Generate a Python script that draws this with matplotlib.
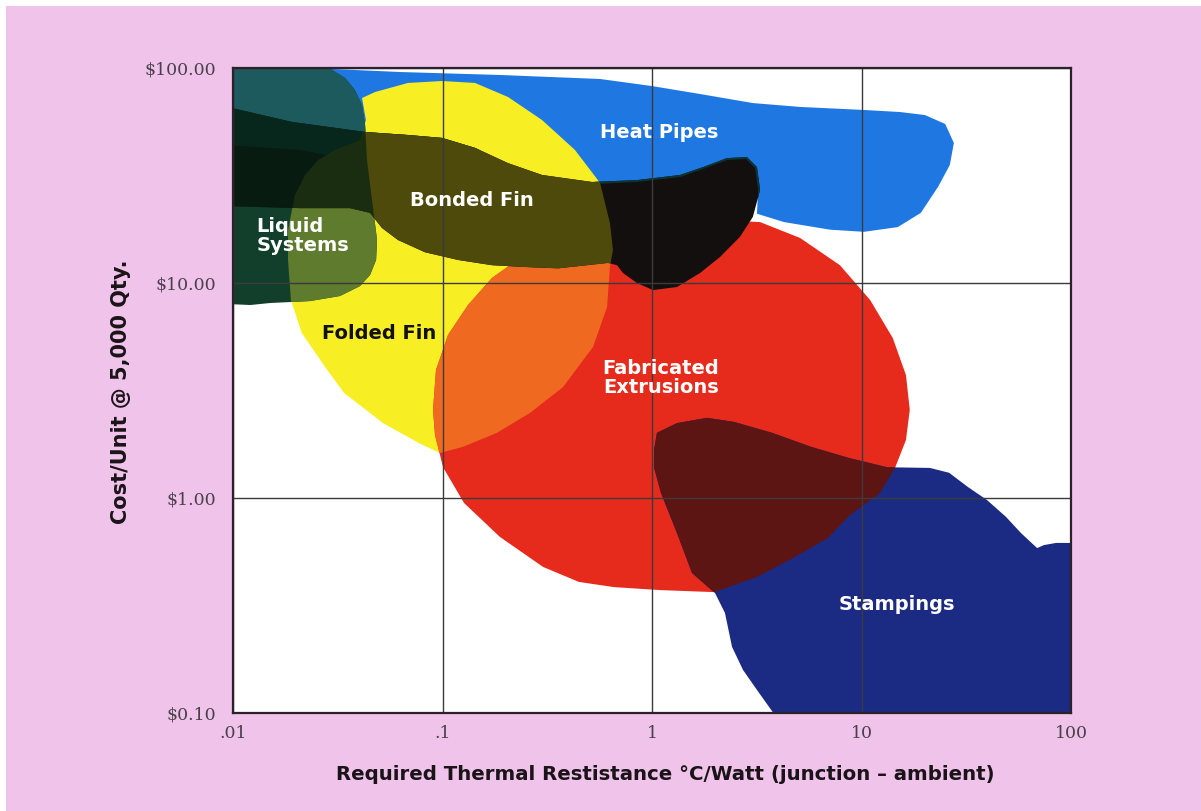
import matplotlib
matplotlib.use("Agg")
import matplotlib.pyplot as plt
from matplotlib.patches import Polygon, Rectangle

# ---------------- data: region outlines (x = °C/W, y = $/unit) ----------------
heat_pipes_x = [0.009, 0.030, 0.0627, 0.188, 0.565, 1.0, 1.695, 3.03, 5.09, 10.28, 15.3, 20.1,
                25.1, 27.6, 26.4, 23.2, 19.2, 14.9, 10.28, 7.08, 4.27, 3.17, 3.21, 3.10, 2.81,
                2.28, 1.752, 1.361, 0.848, 0.552, 0.4285, 0.292, 0.1086, 0.0427, 0.0324,
                0.0209, 0.009]
heat_pipes_y = [110, 98.9, 95.8, 92.8, 88.9, 82.4, 75.7, 68.7, 65.9, 63.8, 62.4, 60.4,
                54.9, 44.8, 35.4, 28.0, 21.2, 18.2, 17.3, 17.7, 19.2, 21.0, 27.1, 34.3, 37.7,
                37.3, 33.9, 31.1, 29.5, 28.9, 35.4, 41.6, 41.6, 41.6, 38.1,
                41.6, 43.9]

folded_fin_x = [0.0413, 0.0476, 0.0684, 0.0995, 0.143, 0.2055, 0.2985, 0.4285, 0.565, 0.630,
                0.651, 0.630, 0.610, 0.523, 0.376, 0.262, 0.182, 0.1253, 0.0973, 0.0789,
                0.052, 0.0339, 0.0275, 0.0213, 0.0189, 0.0183, 0.0183, 0.01977, 0.0221,
                0.0255, 0.0307, 0.0404, 0.0431]
folded_fin_y = [72.5, 77.3, 85.2, 87.0, 85.2, 73.3, 57.3, 41.6, 29.2, 19.0,
                14.2, 11.9, 7.73, 5.04, 3.28, 2.49, 2.01, 1.73, 1.62, 1.78,
                2.23, 3.08, 4.07, 5.85, 8.33, 12.8, 17.6, 25.7, 31.8,
                37.3, 41.6, 46.2, 57.3]

fabricated_x = [0.0901, 0.0931, 0.1062, 0.1324, 0.1722, 0.2344, 0.364, 0.630, 1.092, 2.11,
                3.28, 5.09, 7.89, 11.0, 14.1, 16.3, 17.0, 16.3, 14.45, 12.25, 8.81, 6.92,
                4.71, 3.17, 1.977, 1.092, 0.659, 0.448, 0.302, 0.188, 0.1267, 0.1006, 0.0921]
fabricated_y = [2.57, 3.94, 5.73, 7.90, 10.55, 13.07, 15.85, 18.03, 19.2, 19.6,
                19.2, 16.2, 12.1, 8.33, 5.55, 3.73, 2.57, 1.86, 1.38, 1.055, 0.833, 0.652,
                0.526, 0.429, 0.365, 0.373, 0.385, 0.407, 0.478, 0.659, 0.948, 1.39, 1.96]

stampings_x = [1.022, 1.022, 1.056, 1.316, 1.83, 2.46, 3.74, 5.74, 8.71, 13.24, 21.2, 26.2,
               32.2, 39.7, 49.0, 57.7, 68.9, 74.3, 84.8, 110, 110, 4.1, 3.17, 2.72, 2.41,
               2.23, 2.0, 1.552, 1.316, 1.104]
stampings_y = [1.39, 1.67, 2.01, 2.23, 2.36, 2.26, 2.01, 1.73, 1.535, 1.39, 1.38, 1.31,
               1.125, 0.979, 0.816, 0.687, 0.585, 0.604, 0.618, 0.618, 0.09, 0.09, 0.128,
               0.1585, 0.203, 0.292, 0.361, 0.448, 0.687, 1.055]

liquid_x = [0.009, 0.0275, 0.0297, 0.0343, 0.0382, 0.0413, 0.0427, 0.0436, 0.0461, 0.0487,
            0.0482, 0.0451, 0.0404, 0.0324, 0.0233, 0.0150, 0.0121, 0.009]
liquid_y = [110, 110, 97.9, 89.8, 79.0, 67.3, 54.3, 37.3, 24.3, 15.85,
            12.8, 10.9, 9.68, 8.70, 8.24, 8.07, 7.90, 8.0]

bonded_x = [0.009, 0.0191, 0.0427, 0.0684, 0.0995, 0.143, 0.2055, 0.2985, 0.517, 0.848,
            1.361, 1.752, 2.28, 2.84, 3.17, 3.28, 3.03, 2.63, 2.11, 1.695, 1.316, 1.011,
            0.848, 0.727, 0.681, 0.617, 0.356, 0.2475, 0.1722, 0.1186, 0.0825, 0.0613,
            0.0514, 0.0451, 0.0362, 0.0209, 0.009]
bonded_y = [66.5, 56.1, 50.4, 48.8, 47.3, 42.5, 36.1, 31.8, 29.5, 30.1,
            31.8, 34.6, 38.1, 38.5, 34.6, 27.1, 20.3, 16.4, 13.2, 11.13, 9.58, 9.27,
            10.0, 11.13, 12.1, 12.4, 11.7, 11.87, 12.1, 12.8, 13.9, 15.85,
            18.03, 21.2, 22.3, 22.3, 22.8]

region_labels = ["Heat Pipes", "Bonded Fin", "Liquid\nSystems", "Folded Fin",
                 "Fabricated\nExtrusions", "Stampings"]
label_x = [1.08, 0.138, 0.0129, 0.0498, 1.10, 14.8]
label_y = [50.0, 24.3, 16.6, 5.85, 3.61, 0.321]
label_colors = ["white", "white", "white", "#111111", "white", "white"]
label_ha = ["center", "center", "left", "center", "center", "center"]

x_ticks = [0.01, 0.1, 1, 10, 100]
x_tick_labels = [".01", ".1", "1", "10", "100"]
y_ticks = [0.1, 1, 10, 100]
y_tick_labels = [r"\$0.10", r"\$1.00", r"\$10.00", r"\$100.00"]

x_label = "Required Thermal Restistance °C/Watt (junction – ambient)"
y_label = "Cost/Unit @ 5,000 Qty."

# ---------------- colours ----------------
PINK = "#efc3ea"
C_HEAT = "#1f78e2"
C_FOLD = "#f7ef24"
C_FAB = "#e62a1c"
C_FAB_FOLD = "#ef6a20"
C_STAMP = "#1b2a83"
C_STAMP_FAB = "#5c1512"
C_LIQ = "#113f2c"
C_LIQ_HEAT = "#1d5a5e"
C_LIQ_FOLD = "#5e7b2e"
C_BOND = "#120f0e"
C_BOND_HEAT = "#0c3434"
C_BOND_FOLD = "#4d4a0c"
C_BOND_LIQ = (0.02, 0.13, 0.07)

# ---------------- figure ----------------
fig = plt.figure(figsize=(12.01, 8.11), dpi=100, facecolor=PINK)
fig.add_artist(Rectangle((0, 1 - 6 / 811), 1, 6 / 811, transform=fig.transFigure,
                         facecolor="white", edgecolor="none"))
fig.add_artist(Rectangle((0, 0), 6 / 1201, 1, transform=fig.transFigure,
                         facecolor="white", edgecolor="none"))

ax = fig.add_axes([233 / 1201, 1 - 713 / 811, (1071 - 233) / 1201, (713 - 68) / 811])
ax.set_facecolor("white")
ax.set_xscale("log")
ax.set_yscale("log")
ax.set_xlim(0.01, 100)
ax.set_ylim(0.1, 100)

z = [1.0]


def add_region(xs, ys, color, clip=None, alpha=1.0):
    z[0] += 0.05
    p = Polygon(list(zip(xs, ys)), closed=True, facecolor=color, edgecolor="none",
                alpha=alpha, zorder=z[0])
    ax.add_patch(p)
    if clip is not None:
        p.set_clip_path(clip)
        p.set_clip_box(ax.bbox)
    return p


heat = add_region(heat_pipes_x, heat_pipes_y, C_HEAT)
fold = add_region(folded_fin_x, folded_fin_y, C_FOLD)
fab = add_region(fabricated_x, fabricated_y, C_FAB)
add_region(folded_fin_x, folded_fin_y, C_FAB_FOLD, clip=fab)
stamp = add_region(stampings_x, stampings_y, C_STAMP)
add_region(stampings_x, stampings_y, C_STAMP_FAB, clip=fab)
liq = add_region(liquid_x, liquid_y, C_LIQ)
add_region(folded_fin_x, folded_fin_y, C_LIQ_FOLD, clip=liq)
add_region(heat_pipes_x, heat_pipes_y, C_LIQ_HEAT, clip=liq)
bond = add_region(bonded_x, bonded_y, C_BOND)
add_region(heat_pipes_x, heat_pipes_y, C_BOND_HEAT, clip=bond)
add_region(folded_fin_x, folded_fin_y, C_BOND_FOLD, clip=bond)
add_region(liquid_x, liquid_y, C_BOND_LIQ, clip=bond, alpha=0.7)

# grid & axes
ax.set_axisbelow(False)
ax.minorticks_off()
ax.set_xticks(x_ticks)
ax.set_xticklabels(x_tick_labels)
ax.set_yticks(y_ticks)
ax.set_yticklabels(y_tick_labels)
ax.grid(True, which="major", color="#3c3a3c", linewidth=1.0)
ax.tick_params(axis="x", length=0, pad=9, labelsize=12.5, labelcolor="#4a404a")
ax.tick_params(axis="y", length=0, pad=12, labelsize=12.5, labelcolor="#4a404a")
for lab in ax.get_xticklabels() + ax.get_yticklabels():
    lab.set_family("DejaVu Serif")
for s in ax.spines.values():
    s.set_color("#2a2228")
    s.set_linewidth(1.6)
    s.set_zorder(3)

for t, x, y, c, ha in zip(region_labels, label_x, label_y, label_colors, label_ha):
    ax.text(x, y, t, color=c, ha=ha, va="center", fontsize=14, fontweight="bold",
            family="DejaVu Sans", linespacing=1.0, zorder=5)

fig.text(665 / 1201, 1 - 774 / 811, x_label, ha="center", va="center",
         fontsize=14.2, fontweight="bold", color="#1a1418", family="DejaVu Sans")
fig.text(121 / 1201, 1 - 392 / 811, y_label, ha="center", va="center", rotation=90,
         fontsize=15, fontweight="bold", color="#1a1418", family="DejaVu Sans")

fig.savefig("out.png", dpi=100, facecolor=PINK)
